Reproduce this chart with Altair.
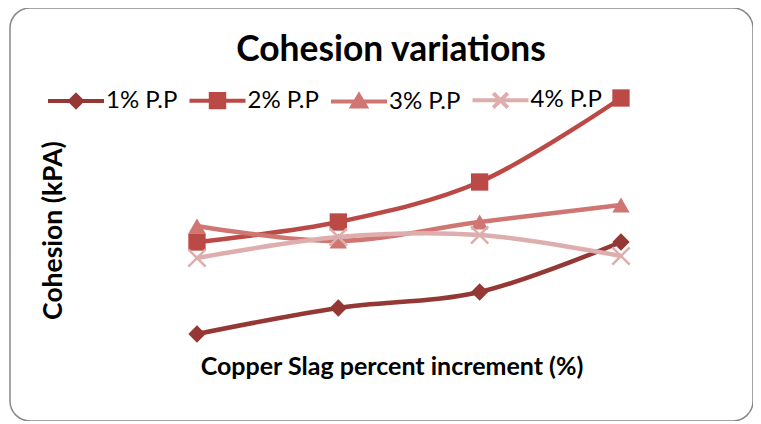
import altair as alt
import pandas as pd

# Copper slag increments (x axis, unlabeled in the original)
slag = [0, 10, 20, 30]
series = ["1% P.P", "2% P.P", "3% P.P", "4% P.P"]
# Cohesion values (relative; axis has no tick labels)
pp1 = [6.6, 9.2, 10.8, 15.8]
pp2 = [15.8, 17.8, 21.8, 30.2]
pp3 = [17.4, 15.9, 17.8, 19.5]
pp4 = [14.2, 16.3, 16.5, 14.4]

colors = ["#953735", "#BB4A47", "#CF7673", "#DDAEAD"]
marker_shapes = ["diamond", "square", "triangle-up", "M-1,-1L1,1M-1,1L1,-1"]
legend_shapes = [
    "M-1,0L1,0M0,-0.21L0.21,0L0,0.21L-0.21,0Z",
    "M-1,0L1,0M-0.24,-0.24L0.24,-0.24L0.24,0.24L-0.24,0.24Z",
    "M-1,0L1,0M0,-0.23L0.24,0.17L-0.24,0.17Z",
    "M-1,0L1,0M-0.26,-0.26L0.26,0.26M-0.26,0.26L0.26,-0.26",
]

rows = []
for k, (name, vals) in enumerate(zip(series, [pp1, pp2, pp3, pp4])):
    for s, v in zip(slag, vals):
        rows.append({"slag": s, "cohesion": v, "series": name, "k": k})
df = pd.DataFrame(rows)

FONT = "Lato"

x_enc = alt.X(
    "slag:Q",
    scale=alt.Scale(domain=[-13.23, 39.34], nice=False, zero=False),
    axis=alt.Axis(
        title="Copper Slag percent increment (%)",
        labels=False, ticks=False, domain=False, grid=False,
        titleFont=FONT, titleFontSize=25, titleFontWeight="bold", titleColor="black",
        titleX=381.5, titleY=-55, titleAlign="center", titleBaseline="middle",
    ),
)
y_enc = alt.Y(
    "cohesion:Q",
    scale=alt.Scale(domain=[-2.1, 39.2], nice=False, zero=False),
    axis=alt.Axis(
        title="Cohesion (kPA)",
        labels=False, ticks=False, domain=False, grid=False,
        titleFont=FONT, titleFontSize=26.5, titleFontWeight="bold", titleColor="black",
        titleX=43, titleY=222, titleAlign="center", titleBaseline="middle", titleAngle=270,
    ),
)

color_scale = alt.Scale(domain=series, range=colors)

base = alt.Chart(df)

lines = base.mark_line(interpolate="catmull-rom", strokeWidth=4.5).encode(
    x=x_enc, y=y_enc,
    color=alt.Color("series:N", scale=color_scale, legend=None),
    order="k:Q",
)

filled_pts = base.transform_filter("datum.k < 3").mark_point(
    filled=True, size=300, opacity=1
).encode(
    x=x_enc, y=y_enc,
    color=alt.Color("series:N", scale=color_scale, legend=None),
    shape=alt.Shape("series:N", scale=alt.Scale(domain=series, range=marker_shapes), legend=None),
)

x_pts = base.transform_filter("datum.k == 3").mark_point(
    filled=False, size=300, strokeWidth=2.5, opacity=1
).encode(
    x=x_enc, y=y_enc,
    color=alt.Color("series:N", scale=color_scale, legend=None),
    shape=alt.Shape("series:N", scale=alt.Scale(domain=series, range=marker_shapes), legend=None),
)

leg = alt.Legend(
    title=None, orient="none", legendX=36, legendY=62, direction="horizontal",
    columns=4, columnPadding=3.5, padding=0, symbolSize=3136, symbolStrokeWidth=4,
    labelFont=FONT, labelFontSize=24, labelColor="black", labelOffset=0,
    symbolOpacity=1,
)

legend_layer = base.transform_filter("datum.k < 0").mark_point(
    filled=True, size=3136, strokeWidth=4, opacity=1
).encode(
    x=x_enc, y=y_enc,
    fill=alt.Fill("series:N", scale=alt.Scale(domain=series, range=colors), legend=leg),
    stroke=alt.Stroke("series:N", scale=alt.Scale(domain=series, range=colors), legend=leg),
    shape=alt.Shape("series:N", scale=alt.Scale(domain=series, range=legend_shapes), legend=leg),
)

chart = (
    alt.layer(lines, filled_pts, x_pts, legend_layer)
    .resolve_scale(shape="independent", fill="independent", stroke="independent")
    .properties(
        width=743, height=413,
        padding={"left": 2, "top": 0, "right": 0, "bottom": 0},
        title=alt.TitleParams(
            "Cohesion variations", font=FONT, fontSize=35.4, fontWeight="bold",
            color="black", anchor="middle", offset=-60, dx=9.5,
        ),
    )
    .configure_view(stroke="#878787", strokeWidth=1.5, cornerRadius=20)
)

chart.save("out.html", embed_options={"renderer": "svg", "actions": False})
